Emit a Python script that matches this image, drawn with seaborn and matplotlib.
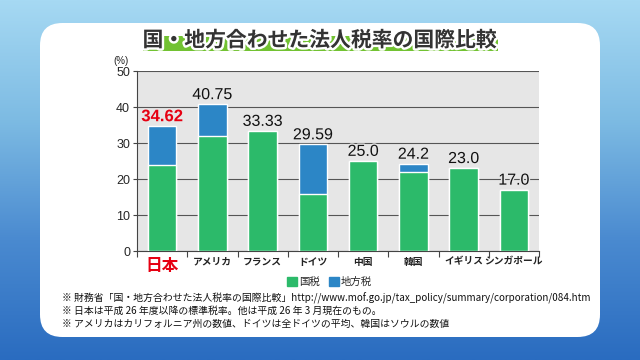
import numpy as np
import pandas as pd
import matplotlib
matplotlib.use("Agg")
import matplotlib.pyplot as plt
import matplotlib.patheffects as pe
from matplotlib.colors import LinearSegmentedColormap
from matplotlib.patches import FancyBboxPatch, Rectangle
import seaborn as sns

# データ
countries = ["日本", "アメリカ", "フランス", "ドイツ", "中国", "韓国", "イギリス", "シンガポール"]
totals = [34.62, 40.75, 33.33, 29.59, 25.0, 24.2, 23.0, 17.0]
national = [23.9, 31.9, 33.33, 15.83, 25.0, 22.0, 23.0, 17.0]
total_labels = ["34.62", "40.75", "33.33", "29.59", "25.0", "24.2", "23.0", "17.0"]
yticks = [0, 10, 20, 30, 40, 50]

df = pd.DataFrame({"country": countries, "total": totals, "national": national})

sns.set_theme(style="white")
plt.rcParams["font.family"] = ["Noto Sans CJK JP", "DejaVu Sans"]

GREEN = "#2cba6a"
BLUE = "#2c86c6"

fig = plt.figure(figsize=(6.4, 3.6), dpi=100)

# 背景グラデーション
bg = fig.add_axes([0, 0, 1, 1], zorder=-10)
cmap = LinearSegmentedColormap.from_list("bg", ["#a6d9f3", "#7dbbe3", "#4a8ad0", "#2a6cc0"])
bg.imshow(np.linspace(0, 1, 256).reshape(-1, 1), aspect="auto", cmap=cmap,
          extent=[0, 1, 0, 1], origin="upper")
bg.set_axis_off()

# 白い角丸パネル
fig.patches.append(FancyBboxPatch((40 / 640, 23 / 360), 560 / 640, 314 / 360,
                                  boxstyle="round,pad=0,rounding_size=0.035",
                                  transform=fig.transFigure, facecolor="white",
                                  edgecolor="none", zorder=-5, mutation_aspect=640 / 360))

# タイトル
fig.patches.append(Rectangle((143 / 640, 1 - 51 / 360), 355 / 640, 15 / 360,
                             transform=fig.transFigure, facecolor="#72c232",
                             edgecolor="none", zorder=1))
fig.text(0.5, 1 - 40 / 360, "国・地方合わせた法人税率の国際比較", ha="center", va="center",
         fontsize=15, fontweight="bold", color="#333333", zorder=3,
         path_effects=[pe.withStroke(linewidth=3.5, foreground="white")])

ax = fig.add_axes([137 / 640, 1 - 251 / 360, 402 / 640, 180 / 360])
ax.set_facecolor("#e6e6e6")

sns.barplot(data=df, x="country", y="total", color=BLUE, width=0.57,
            saturation=1, ax=ax, zorder=3)
sns.barplot(data=df, x="country", y="national", color=GREEN, width=0.57,
            saturation=1, ax=ax, zorder=4)

ax.set_xlim(-0.5, len(countries) - 0.5)
ax.set_ylim(0, 50)
ax.set_yticks(yticks)
ax.set_yticklabels([str(v) for v in yticks], fontsize=9, family="Liberation Sans")
ax.yaxis.grid(True, color="#555555", linewidth=0.8, zorder=1)
ax.set_axisbelow(True)
ax.set_xlabel("")
ax.set_ylabel("")

for s in ["top", "right"]:
    ax.spines[s].set_visible(False)
for s in ["left", "bottom"]:
    ax.spines[s].set_color("#444444")
    ax.spines[s].set_linewidth(0.8)

ax.tick_params(axis="y", length=3, width=0.8, color="#444444", pad=2, left=True)
ax.set_xticks(np.arange(len(countries)))
ax.set_xticklabels(countries)
ax.tick_params(axis="x", length=0, pad=4)
ax.set_xticks(np.arange(-0.5, len(countries), 1.0), minor=True)
ax.tick_params(axis="x", which="minor", length=4, width=0.8, color="#444444", bottom=True)

for i, lab in enumerate(ax.get_xticklabels()):
    if i == 0:
        lab.set_fontsize(12)
        lab.set_color("#e60012")
        lab.set_fontweight("bold")
    else:
        lab.set_fontsize(7)
        lab.set_fontweight("bold")
        lab.set_color("#222222")

for i, (t, s) in enumerate(zip(totals, total_labels)):
    ax.text(i, t + 0.6, s, ha="center", va="bottom", zorder=6,
            fontsize=12 if i == 0 else 11.5, family="Liberation Sans",
            color="#e60012" if i == 0 else "#111111",
            fontweight="bold" if i == 0 else "normal",
            path_effects=[pe.withStroke(linewidth=2, foreground="#e6e6e6")])

ax.text(-0.02, 1.03, "(%)", transform=ax.transAxes, ha="right", va="bottom",
        fontsize=7, family="Liberation Sans", color="#222222")

# 凡例
handles = [Rectangle((0, 0), 1, 1, color=GREEN), Rectangle((0, 0), 1, 1, color=BLUE)]
fig.legend(handles, ["国税", "地方税"], loc="center", bbox_to_anchor=(0.515, 1 - 282 / 360),
           ncol=2, frameon=False, fontsize=7.5, handlelength=1.0, handleheight=1.0,
           handletextpad=0.2, columnspacing=0.8, borderpad=0)

# 注記
notes = [
    "※ 財務省「国・地方合わせた法人税率の国際比較」http://www.mof.go.jp/tax_policy/summary/corporation/084.htm",
    "※ 日本は平成 26 年度以降の標準税率。他は平成 26 年 3 月現在のもの。",
    "※ アメリカはカリフォルニア州の数値、ドイツは全ドイツの平均、韓国はソウルの数値",
]
for k, n in enumerate(notes):
    fig.text(62 / 640, 1 - (298 + 13 * k) / 360, n, ha="left", va="center",
             fontsize=7.1, color="#111111")

fig.savefig("out.png", dpi=100)
